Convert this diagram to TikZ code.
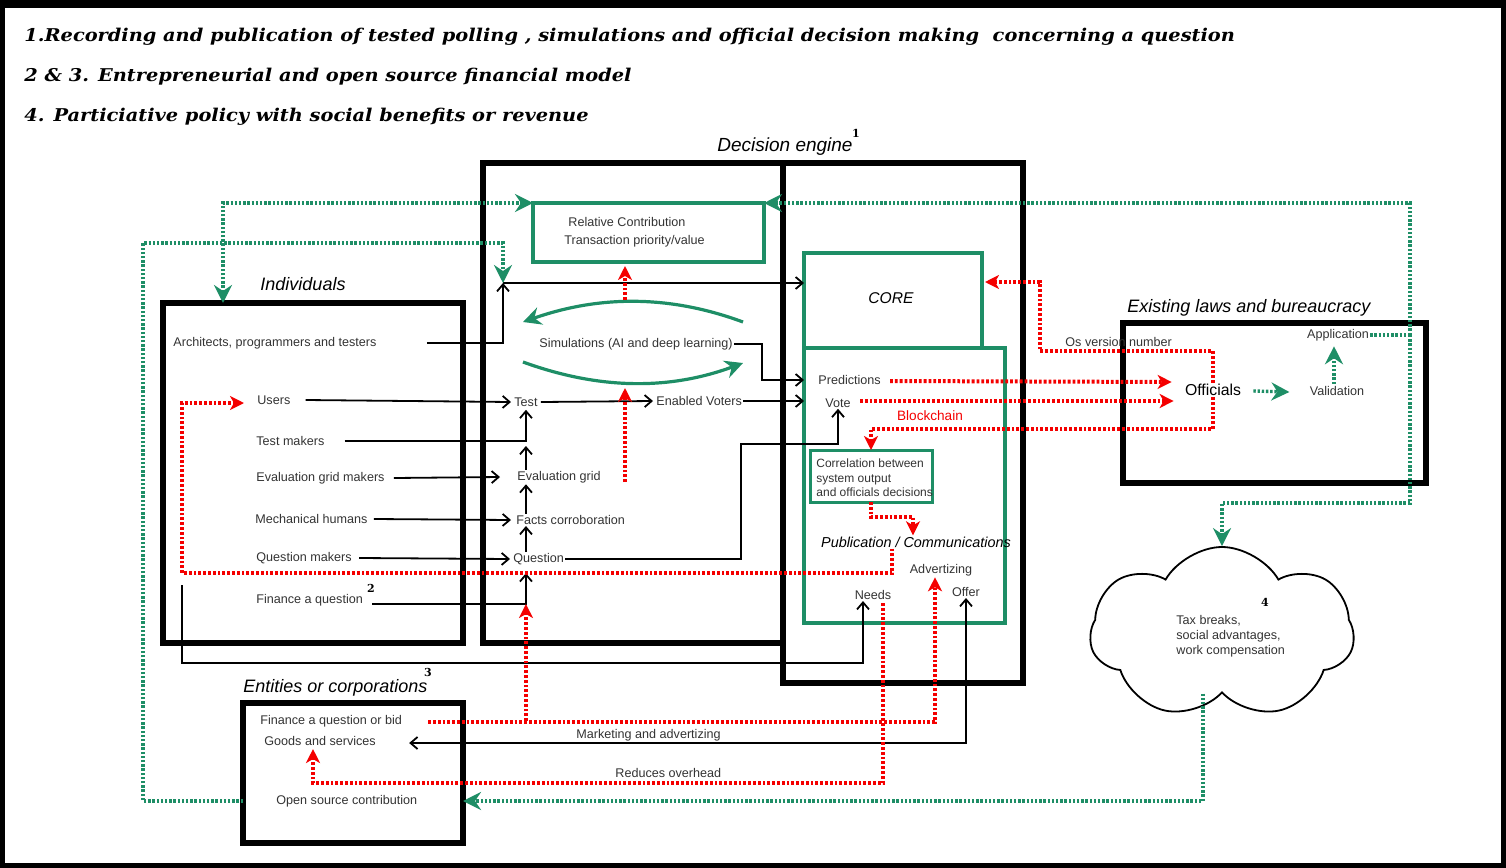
\documentclass[tikz,border=0pt]{standalone}
\usepackage{fontspec}
\setmainfont{Liberation Sans}
\newfontfamily\titlefont[FakeStretch=1.1]{DejaVu Serif}
\newfontfamily\numfont{DejaVu Serif}
\usepackage{tikz}
\usetikzlibrary{arrows.meta}
\usetikzlibrary{calc}
\usetikzlibrary{shapes.symbols}
\definecolor{jade}{HTML}{1E8E66}
\definecolor{signal}{HTML}{F40000}

\begin{document}
\begin{tikzpicture}[x=0.5pt,y=-0.5pt]
    \tikzstyle{bigbox}=[draw, line width=3pt, inner sep=0pt, outer sep=0pt, anchor=north west]
    \tikzstyle{greenbox}=[draw=jade, line width=1.7pt, inner sep=0pt, outer sep=0pt, anchor=north west]
    \tikzstyle{txt}=[font=\fontsize{6.3}{7.5}\selectfont, text=black!80, inner sep=0.5pt]
    \tikzstyle{head}=[font=\fontsize{9}{11}\selectfont\itshape, inner sep=0pt]
    \tikzstyle{num}=[font=\numfont\bfseries\fontsize{5.5}{6}\selectfont, inner sep=0pt]
    \tikzstyle{title}=[font=\titlefont\bfseries\itshape\fontsize{8.8}{10}\selectfont, anchor=west, inner sep=0pt]
    \tikzstyle{link}=[draw, line width=0.9pt, -{Straight Barb[length=3.5pt,width=6pt]}]
    \tikzstyle{gflow}=[draw=jade, line width=1.7pt, dash pattern=on 1.2pt off 0.9pt]
    \tikzstyle{gtip}=[-{Stealth[length=9pt,width=9pt,inset=3pt]}]
    \tikzstyle{rflow}=[draw=signal, line width=2pt, dash pattern=on 1.4pt off 1pt, -{Stealth[length=7pt,width=7pt,inset=2pt]}]
    \useasboundingbox (0,0) rectangle (1506,868);
    % Frame
    \draw[line width=2.5pt] (2.5,3) rectangle (1503.5,865.5);
    \fill (0,0) rectangle (1506,8);
    % Titles
    \node[title] (head1) at (24,37) {1.Recording and publication of tested polling , simulations and official decision making\ \ concerning a question};
    \node[title] (head2) at (24,77) {2 \& 3. Entrepreneurial and open source financial model};
    \node[title] (head3) at (24,117) {4. Particiative policy with social benefits or revenue};
    % Boxes
    \node[bigbox, minimum width=150pt, minimum height=170pt] (indiv) at (163,303) {};
    \node[bigbox, minimum width=150pt, minimum height=240pt] (engleft) at (483,163) {};
    \node[bigbox, minimum width=120pt, minimum height=260pt] (engright) at (783,163) {};
    \node[bigbox, minimum width=151.5pt, minimum height=80pt] (laws) at (1123,323) {};
    \node[bigbox, minimum width=110pt, minimum height=70pt] (ent) at (243,703) {};
    \node[greenbox, minimum width=115.5pt, minimum height=29.5pt] (relc) at (533,203) {};
    \node[greenbox, minimum width=100.5pt, minimum height=137.5pt] (pubbox) at (804,348) {};
    \node[greenbox, minimum width=89pt, minimum height=47.5pt] (core) at (804,253) {};
    \node[greenbox, line width=1.5pt, minimum width=61pt, minimum height=26pt] (corr) at (810,450) {};
    \node[cloud, draw, line width=0.9pt, cloud puffs=7, cloud puff arc=120, aspect=1.6,
          minimum width=132pt, minimum height=86pt, inner sep=0pt] (taxcloud) at (1222,633) {};
    % Headings
    \node[head] (indivlbl) at (303,284) {Individuals};
    \node[head, font=\fontsize{9.5}{11}\selectfont\itshape] (englbl) at (785,147) {Decision engine};
    \node[head, anchor=west] (lawslbl) at (1127,308) {Existing laws and bureaucracy};
    \node[head, anchor=west] (entlbl) at (243,688) {Entities or corporations};
    \node[num] (sup1) at (856,133) {1};
    \node[num] (sup2) at (371,588) {2};
    \node[num] (sup3) at (428,672) {3};
    \node[num] (sup4) at (1265,602) {4};
    % Individuals
    \node[txt, anchor=west] (arch) at (172,343) {Architects, programmers and testers};
    \node[txt, anchor=west] (users) at (256,400) {Users};
    \node[txt, anchor=west] (testmk) at (255,441) {Test makers};
    \node[txt, anchor=west] (evalmk) at (255,478) {Evaluation grid makers};
    \node[txt, anchor=west] (mech) at (254,519) {Mechanical humans};
    \node[txt, anchor=west] (qmk) at (255,558) {Question makers};
    \node[txt, anchor=west] (finq) at (255,600) {Finance a question};
    % Decision engine, left
    \node[txt, anchor=west] (rel1) at (567,222) {Relative Contribution};
    \node[txt, anchor=west] (rel2) at (563,241) {Transaction priority/value};
    \node[txt, anchor=west] (sim) at (538,344) {Simulations (AI and deep learning)};
    \node[txt, anchor=west, inner sep=1.5pt] (test) at (511,402) {Test};
    \node[txt, anchor=west] (voters) at (655,401) {Enabled Voters};
    \node[txt, anchor=west] (evalg) at (516,477) {Evaluation grid};
    \node[txt, anchor=west] (facts) at (515,520) {Facts corroboration};
    \node[txt, anchor=west] (quest) at (512,559) {Question};
    % Decision engine, right
    \node[font=\fontsize{7.8}{9}\selectfont\itshape] (coretxt) at (891,298) {CORE};
    \node[txt, anchor=west] (pred) at (817,380) {Predictions};
    \node[txt, anchor=west] (vote) at (824,403) {Vote};
    \node[txt, text=signal, font=\fontsize{6.8}{8}\selectfont] (chain) at (930,416) {Blockchain};
    \node[txt, anchor=west, align=left, font=\fontsize{6}{7.2}\selectfont] (corrtxt) at (815,478)
        {Correlation between\\system output\\and officials decisions};
    \node[txt, text=black, font=\fontsize{7.2}{8}\selectfont\itshape] (pub) at (916,542) {Publication / Communications};
    \node[txt] (advert) at (941,570) {Advertizing};
    \node[txt] (needs) at (873,595) {Needs};
    \node[txt] (offer) at (966,592) {Offer};
    % Laws
    \node[txt, anchor=west] (osver) at (1064,342) {Os version number};
    \node[txt, text=black, font=\fontsize{7.9}{9}\selectfont] (officials) at (1213,390) {Officials};
    \node[txt] (valid) at (1337,391) {Validation};
    \node[txt] (applic) at (1338,335) {Application};
    % Entities
    \node[txt, anchor=west] (finbid) at (259,721) {Finance a question or bid};
    \node[txt, anchor=west] (goods) at (263,741) {Goods and services};
    \node[txt, anchor=west] (opensrc) at (275,801) {Open source contribution};
    \node[txt, anchor=west] (market) at (575,735) {Marketing and advertizing};
    \node[txt, anchor=west] (reduces) at (614,773) {Reduces overhead};
    \node[txt, anchor=west, align=left, font=\fontsize{6.3}{7.5}\selectfont] (taxtxt) at (1175,636)
        {Tax breaks,\\social advantages,\\work compensation};
    % Junctions
    \coordinate (jn) at (503,283);
    \coordinate (gright) at (1410,335);
    \coordinate (gdown) at (1410,503);
    \coordinate (gleft) at (143,243);
    \coordinate (lstub) at (182,585);
    \coordinate (lowrun) at (182,663);
    \coordinate (redleft) at (182,573);
    \coordinate (osbend) at (1040,351);
    \coordinate (simtop) at (625,300);
    \coordinate (simbot) at (625,388);
    \coordinate (evalfeed) at (625,482);
    \coordinate (rbot) at (313,783);
    % Black arrows
    \draw[link] ($(arch.east)+(49,0)$) -| (jn);
    \draw[link] (jn) -- (jn -| core.west);
    \draw[link] ($(users.east)+(14,0)$) -- (test.west);
    \draw[link] ($(testmk.east)+(19,0)$) -| (test.south);
    \draw[link] ($(evalmk.east)+(8,0)$) -- ($(evalg.west)+(-16,0)$);
    \draw[link] (evalg.north -| test.south) -- ($(test.south |- testmk.east)+(0,5)$);
    \draw[link] ($(mech.east)+(5,0)$) -- ($(facts.west)+(-4,0)$);
    \draw[link] (facts.north -| test.south) -- (evalg.south -| test.south);
    \draw[link] ($(qmk.east)+(6,0)$) -- ($(quest.west)+(-2,0)$);
    \draw[link] (quest.north -| test.south) -- (facts.south -| test.south);
    \draw[link] ($(finq.east)+(8,4)$) -| ($(test.south |- quest.south)+(0,7)$);
    \draw[link] (test.east) -- ($(voters.west)+(-2,0)$);
    \draw[link] (voters.east) -- (voters.east -| pubbox.west);
    \draw[link] (sim.east) -- ++(28,0) |- (pubbox.west |- pred.west);
    \draw[link] (quest.east) -| ($(vote.south)+(-97,35)$) -| (vote.south);
    \draw[link] (lstub) -- (lowrun) -| ($(needs.south)+(-10,0)$);
    \draw[link, {Straight Barb[length=3.5pt,width=6pt]}-{Straight Barb[length=3.5pt,width=6pt]}]
        ($(goods.east)+(32,2)$) -| (offer.south);
    % Simulation loop
    \draw[jade, line width=1.6pt, -{Stealth[length=9pt,width=9pt,inset=3pt]}]
        (743,322) .. controls (670,295) and (600,295) .. (523,322);
    \draw[jade, line width=1.6pt, -{Stealth[length=9pt,width=9pt,inset=3pt]}]
        (523,362) .. controls (600,390) and (670,390) .. (743,363);
    % Green dotted arrows
    \draw[gflow] (applic.east) -- (gright);
    \draw[gflow, gtip] (gright) |- (relc.north east);
    \draw[gflow, gtip] (gright) -- (gdown) -| (taxcloud.north);
    \draw[gflow, {Stealth[length=9pt,width=9pt,inset=3pt]}-{Stealth[length=9pt,width=9pt,inset=3pt]}]
        ($(indiv.north west)+(60,0)$) |- (relc.north west);
    \draw[gflow, gtip] (opensrc.west -| ent.west) -| (gleft) -| (jn);
    \draw[gflow, gtip] ($(taxcloud.south)+(-19,0)$) |- (opensrc.west -| ent.east);
    \draw[gflow, gtip] ($(officials.east)+(11,1)$) -- ($(valid.west)+(-19,1)$);
    \draw[gflow, gtip] ($(valid.north)+(-3,-1)$) -- ($(valid.north |- applic.south)+(-3,4)$);
    % Red dotted arrows
    \draw[rflow] (simtop) -- ($(simtop |- relc.south)+(0,4)$);
    \draw[rflow] (evalfeed) -- (simbot);
    \draw[rflow] (officials.north) |- (osbend) |- ($(core.north east)+(3,29)$);
    \draw[rflow] ($(pred.east)+(8,1)$) -- ($(officials.west)+(-12,-8)$);
    \draw[rflow] ($(vote.east)+(8,-2)$) -- ($(officials.west)+(-10,11)$);
    \draw[rflow] (officials.south) |- ($(corr.north)+(0,-21)$) -- (corr.north);
    \draw[rflow] (corr.south) -- ++(0,15) -| ($(pub.north)+(-3,0)$);
    \draw[rflow] ($(pub.south)+(-24,0)$) |- (redleft) |- ($(users.west)+(-12,3)$);
    \draw[rflow] ($(finbid.east)+(25,1)$) -| ($(advert.south)+(-6,0)$);
    \draw[rflow] (test.south |- finbid.east) -- ($(test.south |- finq.east)+(0,4)$);
    \draw[rflow] ($(needs.south)+(10,2)$) |- (rbot) -- ($(rbot |- goods.south)+(0,2)$);
  \end{tikzpicture}
\end{document}
